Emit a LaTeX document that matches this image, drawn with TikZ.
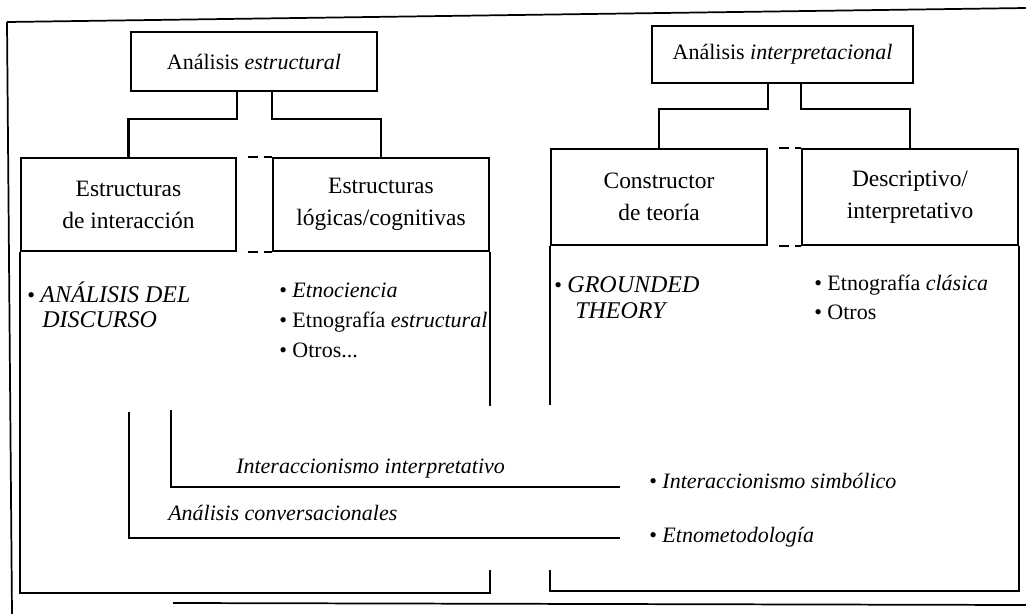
\documentclass[tikz,border=0pt]{standalone}
\usepackage{fontspec}
\setmainfont{Liberation Serif}
\usetikzlibrary{calc}
\begin{document}
\begin{tikzpicture}[x=0.75pt,y=-0.75pt,
  every node/.style={font=\fontsize{16.5}{24}\selectfont},
  frame/.style={line width=1.3pt},
  ln/.style={line width=1.6pt},
  topbox/.style={draw,line width=1.6pt,inner sep=0pt},
  head/.style={draw,line width=1.6pt,inner sep=0pt,align=center,font=\fontsize{17.6}{24}\selectfont},
  txt/.style={inner sep=0pt,anchor=base west},
  caps/.style={font=\fontsize{18}{24}\selectfont\itshape},
  gapdash/.style={line width=1.6pt,dash pattern=on 0pt off 8pt on 8pt off 4pt on 8pt off 20pt}
]
\useasboundingbox (0,0) rectangle (1026,614);
\fill[white] (0,0) rectangle (1026,614);

% outer frame (scanned page edge)
\draw[frame] (7,22) -- (1026,8);
\draw[frame] (7,22) -- (12,614);
\draw[frame] (173,603) -- (1026,605);

% top boxes
\node[topbox,minimum width=184.5pt,minimum height=44.25pt] (se) at (254,61.5) {Análisis \textit{estructural}};
\node[topbox,minimum width=195.75pt,minimum height=42.75pt] (ip) at (782.5,54.5) {Análisis \textit{interpretacional}};

% header boxes
\node[head,minimum width=161.25pt,minimum height=69.75pt] (h1) at (128.5,204.5) {Estructuras\\de interacción};
\node[head,minimum width=162pt,minimum height=69.75pt] (h2) at (381,204.5) {Estructuras\\lógicas/cognitivas};
\node[head,minimum width=162pt,minimum height=72pt] (h3) at (659,197) {Constructor\\de teoría};
\node[head,minimum width=162pt,minimum height=72pt] (h4) at (910,197) {Descriptivo/\\interpretativo};

% connectors from top boxes
\draw[ln] (se.south -| h1.east) -- ++(0,27) -| (h1.north);
\draw[ln] (se.south -| h2.west) -- ++(0,27) -| (h2.north);
\draw[ln] (ip.south -| h3.east) -- ++(0,25) -| (h3.north);
\draw[ln] (ip.south -| h4.west) -- ++(0,25) -| (h4.north);

% dashed links between headers
\draw[gapdash] (h1.north east) -- (h2.north west);
\draw[gapdash] (h1.south east) -- (h2.south west);
\draw[gapdash] (h3.north east) -- (h4.north west);
\draw[gapdash] (h3.south east) -- (h4.south west);

% body outlines
\draw[ln] (h2.south east) -- (h2.south east |- 0,406);
\draw[ln] (h2.south east |- 0,570) -- (h2.south east |- 0,593) -- (h1.south west |- 0,593) -- (h1.south west);
\draw[ln] (h3.south west) -- (h3.south west |- 0,405);
\draw[ln] (h3.south west |- 0,570) -- (h3.south west |- 0,591) -- (h4.south east |- 0,591) -- (h4.south east);

% body texts
\node[txt] (ad1) at (27,302) {• {\fontsize{18}{24}\selectfont\itshape ANÁLISIS DEL}};
\node[txt,caps] (ad2) at (42,327) {DISCURSO};
\node[txt] (ec) at (279,297) {• \textit{Etnociencia}};
\node[txt] (ee) at (279,327) {• Etnografía \textit{estructural}};
\node[txt] (ot) at (279,357) {• Otros...};
\node[txt] (gt1) at (554,292) {• {\fontsize{18}{24}\selectfont\itshape GROUNDED}};
\node[txt,caps] (gt2) at (575,318) {THEORY};
\node[txt] (ecl) at (814,290) {• Etnografía \textit{clásica}};
\node[txt] (ot2) at (814,319) {• Otros};

% inner brackets
\coordinate (iis) at (171,410);
\coordinate (iie) at (620,487);
\draw[ln] (iis) |- (iie);
\coordinate (acs) at (129,412);
\coordinate (ace) at (620,538);
\draw[ln] (acs) |- (ace);

\node[txt] (ii) at (236,473) {\textit{Interaccionismo interpretativo}};
\node[txt] (ac) at (168,520) {\textit{Análisis conversacionales}};
\node[txt] (is) at (649,488) {• \textit{Interaccionismo simbólico}};
\node[txt] (et) at (649,542) {• \textit{Etnometodología}};
\end{tikzpicture}
\end{document}
